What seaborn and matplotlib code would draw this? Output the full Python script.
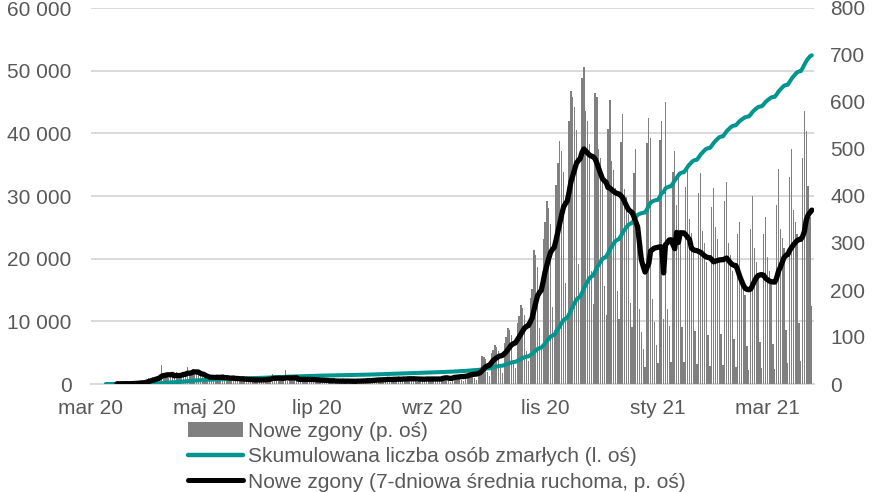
import numpy as np
import pandas as pd
import matplotlib
matplotlib.use("Agg")
import matplotlib.pyplot as plt
from matplotlib.patches import Patch
from matplotlib.lines import Line2D
import seaborn as sns

# daily new deaths, one row per week (Mon-Sun), starting 2020-03-09
start_date = "2020-03-09"
nowe_zgony = [
    0, 0, 0, 1, 0, 1, 1,
    0, 1, 0, 1, 1, 0, 1,
    2, 1, 3, 2, 4, 3, 2,
    5, 8, 12, 10, 14, 9, 13,
    14, 15, 40, 20, 17, 18, 13,
    14, 21, 19, 25, 16, 18, 20,
    24, 22, 36, 25, 19, 31, 24,
    23, 20, 17, 15, 12, 14, 13,
    11, 18, 15, 14, 16, 12, 13,
    16, 10, 14, 12, 9, 13, 15,
    8, 12, 10, 9, 11, 7, 13,
    6, 10, 9, 8, 7, 10, 9,
    8, 11, 9, 13, 10, 12, 22,
    7, 13, 11, 12, 9, 10, 30,
    6, 12, 10, 14, 9, 11, 8,
    5, 11, 13, 10, 12, 8, 9,
    4, 9, 11, 8, 7, 10, 6,
    3, 8, 6, 9, 7, 5, 6,
    2, 7, 9, 6, 8, 5, 4,
    3, 6, 8, 10, 7, 6, 5,
    4, 9, 11, 8, 10, 7, 9,
    5, 12, 10, 11, 9, 13, 8,
    4, 14, 12, 10, 13, 9, 11,
    6, 13, 15, 11, 12, 10, 9,
    5, 12, 14, 10, 11, 13, 9,
    6, 11, 13, 12, 10, 14, 8,
    17, 16, 15, 7, 5, 18, 20,
    20, 20, 18, 9, 6, 22, 24,
    29, 28, 25, 12, 8, 31, 35,
    60, 58, 53, 25, 17, 65, 72,
    82, 78, 71, 34, 24, 88, 99,
    120, 115, 105, 50, 35, 130, 145,
    168, 161, 147, 70, 49, 182, 203,
    286, 274, 250, 119, 83, 309, 345,
    390, 374, 341, 163, 114, 423, 471,
    516, 495, 452, 215, 151, 559, 624,
    610, 590, 540, 255, 180, 651, 674,
    580, 560, 510, 240, 170, 620, 610,
    500, 480, 438, 209, 146, 542, 605,
    475, 455, 416, 198, 139, 515, 574,
    414, 397, 362, 173, 121, 449, 500,
    337, 159, 110, 75, 37, 512, 565,
    523, 180, 131, 82, 44, 519, 560,
    138, 600, 160, 124, 47, 450, 496,
    381, 450, 305, 122, 46, 420, 460,
    350, 322, 280, 112, 42, 406, 448,
    325, 299, 260, 104, 39, 377, 416,
    335, 308, 268, 107, 40, 389, 429,
    300, 275, 240, 95, 36, 320, 344,
    230, 210, 190, 80, 30, 330, 400,
    290, 260, 225, 90, 34, 320, 356,
    270, 240, 215, 85, 32, 380, 458,
    330, 310, 290, 115, 45, 440, 500,
    370, 345, 320, 130, 50, 480, 580,
    538, 422, 355, 165,
]

tick_dates = ["2020-03-01", "2020-05-01", "2020-07-01", "2020-09-01",
              "2020-11-01", "2021-01-01", "2021-03-01"]
tick_labels = ["mar 20", "maj 20", "lip 20", "wrz 20", "lis 20", "sty 21", "mar 21"]
left_ticks = [0, 10000, 20000, 30000, 40000, 50000, 60000]
right_ticks = [0, 100, 200, 300, 400, 500, 600, 700, 800]
legend_labels = ["Nowe zgony (p. oś)",
                 "Skumulowana liczba osób zmarłych (l. oś)",
                 "Nowe zgony (7-dniowa średnia ruchoma, p. oś)"]

BAR = "#808080"
TEAL = "#00968f"
GRID = "#d9d9d9"
TXT = "#595959"

df = pd.DataFrame({
    "data": pd.date_range(start_date, periods=len(nowe_zgony), freq="D"),
    "zgony": nowe_zgony,
})
df["skumulowane"] = df["zgony"].cumsum()
df["srednia7"] = df["zgony"].rolling(7).mean()

sns.set_style("white")
plt.rcParams["font.family"] = ["Liberation Sans", "DejaVu Sans"]

fig = plt.figure(figsize=(8.82, 4.92), dpi=100)
rect = [91 / 882, 1 - 384 / 492, (813.7 - 91) / 882, (384 - 8) / 492]
ax = fig.add_axes(rect)

# base axes: grid + left labels
ax.set_ylim(0, 60000)
ax.set_yticks(left_ticks)
ax.set_yticklabels([f"{v:,}".replace(",", " ") for v in left_ticks])
ax.grid(axis="y", color=GRID, linewidth=1.4)
ax.grid(axis="x", visible=False)
ax.set_axisbelow(True)
ax.set_xlim(pd.Timestamp("2020-03-01"), pd.Timestamp("2021-03-26"))
ax.set_xticks(pd.to_datetime(tick_dates))
ax.set_xticklabels(tick_labels)
for s in ["top", "left", "right"]:
    ax.spines[s].set_visible(False)
ax.spines["bottom"].set_color(GRID)
ax.spines["bottom"].set_linewidth(1.4)
ax.tick_params(axis="x", length=4, width=1.2, color=GRID, labelsize=15,
               labelcolor=TXT, pad=7)
ax.tick_params(axis="y", length=0, labelsize=15, labelcolor=TXT, pad=14)

# bars on the right axis
axr = ax.twinx()
axr.bar(df["data"], df["zgony"], width=0.7, color=BAR, linewidth=0,
        antialiased=False)
axr.set_ylim(0, 800)
axr.set_yticks(right_ticks)
axr.tick_params(axis="y", length=0, labelsize=15, labelcolor=TXT, pad=12)
for s in axr.spines.values():
    s.set_visible(False)

# cumulative line, left scale
axt = ax.twinx()
sns.lineplot(data=df, x="data", y="skumulowane", ax=axt, color=TEAL, linewidth=2.9)
axt.set_ylim(0, 60000)
axt.set_yticks([])
axt.set_ylabel("")
axt.set_xlabel("")
for s in axt.spines.values():
    s.set_visible(False)

# 7-day average, right scale
axb = ax.twinx()
sns.lineplot(data=df, x="data", y="srednia7", ax=axb, color="black", linewidth=3.8)
axb.set_ylim(0, 800)
axb.set_yticks([])
axb.set_ylabel("")
axb.set_xlabel("")
for s in axb.spines.values():
    s.set_visible(False)

ax.set_xlim(pd.Timestamp("2020-03-01"), pd.Timestamp("2021-03-26"))

handles = [Patch(facecolor=BAR, edgecolor="none"),
           Line2D([], [], color=TEAL, linewidth=3.2),
           Line2D([], [], color="black", linewidth=3.6)]
fig.legend(handles, legend_labels, loc="upper left",
           bbox_to_anchor=(188 / 882, 1 - 422 / 492), frameon=False,
           borderpad=0, borderaxespad=0, handlelength=2.65, handletextpad=0.22,
           labelspacing=0.3, fontsize=15, labelcolor=TXT)

fig.savefig("out.png", dpi=100)
